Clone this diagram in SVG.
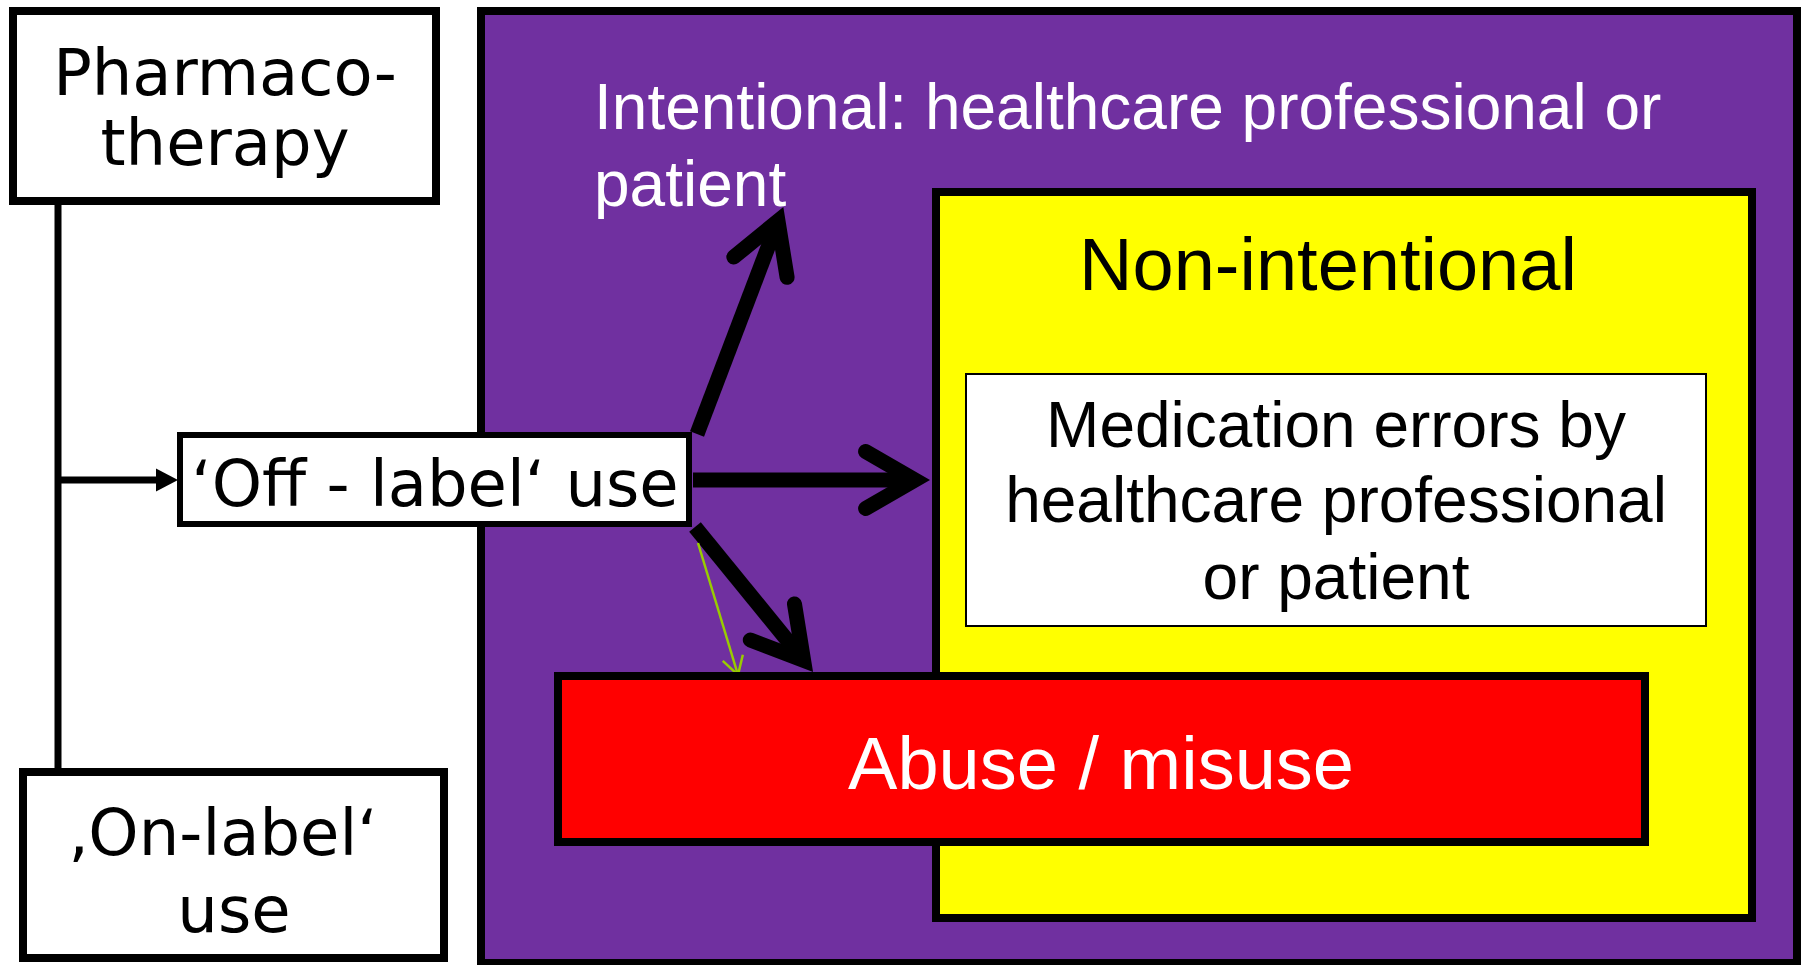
<svg xmlns="http://www.w3.org/2000/svg" width="1802" height="965" viewBox="0 0 1802 965">
<style>
.box{stroke:#000;stroke-width:8}
.v{font-family:"DejaVu Sans",Verdana,sans-serif;font-size:64px;fill:#000}
.a{font-family:"Liberation Sans",Arial,sans-serif}
.thick{stroke:#000;stroke-width:15;fill:none}
</style>
<defs>
<marker id="chev" markerUnits="userSpaceOnUse" orient="auto" refX="0" refY="0" markerWidth="10" markerHeight="10" overflow="visible">
<path d="M-49.4,-28.5 L0,0 L-49.4,28.5" fill="none" stroke="#000" stroke-width="15" stroke-linecap="round" stroke-linejoin="miter"/>
</marker>
<marker id="tri" markerUnits="userSpaceOnUse" orient="auto" refX="0" refY="0" markerWidth="10" markerHeight="10" overflow="visible">
<path d="M0,-11.5 L22,0 L0,11.5 Z" fill="#000"/>
</marker>
<marker id="gv" markerUnits="userSpaceOnUse" orient="auto" refX="0" refY="0" markerWidth="10" markerHeight="10" overflow="visible">
<path d="M-18,-10.5 L0,0 L-18,10.5" fill="none" stroke="#99CC00" stroke-width="2.5"/>
</marker>
</defs>
<rect width="1802" height="965" fill="#fff"/>
<g id="intentional">
<rect class="box" x="481" y="11" width="1316" height="952" fill="#7030A0"/>
<text class="a" font-size="64" fill="#fff" x="594" y="129">Intentional: healthcare professional or</text>
<text class="a" font-size="64" fill="#fff" x="594" y="206">patient</text>
</g>
<g id="non-intentional">
<rect class="box" x="936" y="192" width="816" height="726" fill="#FFFF00"/>
<text class="a" font-size="74" fill="#000" x="1328" y="290" text-anchor="middle">Non-intentional</text>
</g>
<g id="medication-errors">
<rect x="966" y="374" width="740" height="252" fill="#fff" stroke="#000" stroke-width="2"/>
<text class="a" font-size="64" fill="#000" text-anchor="middle"><tspan x="1336" y="447">Medication errors by</tspan><tspan x="1336" y="522">healthcare professional</tspan><tspan x="1336" y="599">or patient</tspan></text>
</g>
<g id="connectors">
<line x1="58" y1="205" x2="58" y2="768" stroke="#000" stroke-width="7"/>
<line x1="58" y1="480" x2="156" y2="480" stroke="#000" stroke-width="7" marker-end="url(#tri)"/>
<line class="thick" x1="697" y1="434" x2="778" y2="221" marker-end="url(#chev)"/>
<line class="thick" x1="693" y1="480" x2="915" y2="480" marker-end="url(#chev)"/>
<line class="thick" x1="695" y1="527" x2="803.6" y2="660.3" marker-end="url(#chev)"/>
<line x1="698" y1="543" x2="738" y2="675" stroke="#99CC00" stroke-width="2.5" marker-end="url(#gv)"/>
</g>
<g id="abuse">
<rect class="box" x="558" y="676" width="1087" height="166" fill="#FF0000"/>
<text class="a" font-size="74" fill="#fff" x="1101" y="789" text-anchor="middle">Abuse / misuse</text>
</g>
<g id="pharmacotherapy">
<rect class="box" x="13" y="11" width="423" height="190" fill="#fff"/>
<text class="v" text-anchor="middle"><tspan x="225" y="95">Pharmaco-</tspan><tspan x="225" y="165">therapy</tspan></text>
</g>
<g id="off-label">
<rect x="180" y="435" width="509" height="89" fill="#fff" stroke="#000" stroke-width="6"/>
<text class="v" x="435" y="506" text-anchor="middle">‘Off - label‘ use</text>
</g>
<g id="on-label">
<rect class="box" x="23" y="772" width="421" height="186" fill="#fff"/>
<text class="v" x="68" y="855">‚On-label‘</text>
<text class="v" x="234" y="932" text-anchor="middle">use</text>
</g>
</svg>
